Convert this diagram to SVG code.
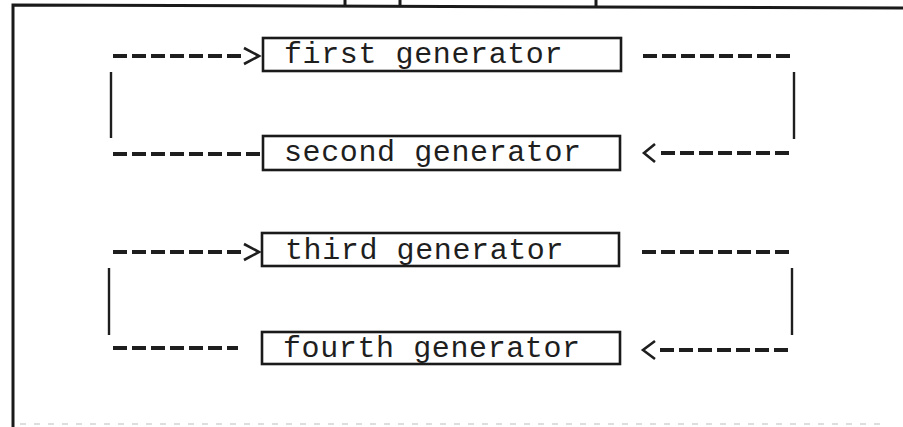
<svg xmlns="http://www.w3.org/2000/svg" width="903" height="427" viewBox="0 0 903 427">
  <style>
    .frame { fill: none; stroke: #1a1a1a; stroke-width: 3; }
    .box { fill: #ffffff; stroke: #1a1a1a; stroke-width: 2.6; }
    .label { font-family: "Liberation Mono", "DejaVu Sans Mono", monospace; font-size: 30px; letter-spacing: 0.6px; fill: #1e1e1e; }
    .dash { fill: none; stroke: #1e1e1e; stroke-width: 4; stroke-dasharray: 14 5; }
    .rail { fill: none; stroke: #1e1e1e; stroke-width: 2.4; }
    .head { fill: none; stroke: #1e1e1e; stroke-width: 2.6; stroke-linejoin: miter; }
  </style>

  <rect width="903" height="427" fill="#ffffff"/>

  <!-- page frame -->
  <g id="frame">
    <path class="frame" d="M13,427 L13,5 L903,8"/>
    <path class="frame" d="M345,0 L345,5 M400,0 L400,6 M596,0 L596,7" stroke-width="2"/>
    <path d="M20,424 L880,424" fill="none" stroke="#d4d4d4" stroke-width="1.5" stroke-dasharray="6 8"/>
  </g>

  <!-- generators -->
  <g id="first-generator">
    <rect class="box" x="263" y="38" width="358" height="33"/>
    <text class="label" x="284" y="63">first generator</text>
  </g>
  <g id="second-generator">
    <rect class="box" x="263" y="136" width="357" height="34"/>
    <text class="label" x="284" y="161">second generator</text>
  </g>
  <g id="third-generator">
    <rect class="box" x="262" y="233" width="357" height="33"/>
    <text class="label" x="285" y="259">third generator</text>
  </g>
  <g id="fourth-generator">
    <rect class="box" x="262" y="332" width="358" height="32"/>
    <text class="label" x="283" y="357">fourth generator</text>
  </g>

  <!-- feedback loops between generator pairs -->
  <g id="connectors">
    <!-- loop 1: first -> right -> second -> left -> first -->
    <path class="dash" d="M643,56 L792,56"/>
    <path class="rail" d="M794,72 L794,139"/>
    <path class="dash" d="M661,153 L792,153"/>
    <path class="head" d="M655,144 L644,153 L655,162"/>
    <path class="dash" d="M113,154 L262,154"/>
    <path class="rail" d="M111,72 L111,138"/>
    <path class="dash" d="M113,56 L242,56"/>
    <path class="head" d="M244,48 L259,56 L244,64"/>

    <!-- loop 2: third -> right -> fourth -> left -> third -->
    <path class="dash" d="M642,252 L791,252"/>
    <path class="rail" d="M792,268 L792,335"/>
    <path class="dash" d="M660,350 L791,350"/>
    <path class="head" d="M655,341 L643,350 L655,359"/>
    <path class="dash" d="M113,348 L238,348" stroke-dasharray="13.5 4.5"/>
    <path class="rail" d="M109,268 L109,335"/>
    <path class="dash" d="M113,252 L242,252"/>
    <path class="head" d="M244,244 L259,252 L244,260"/>
  </g>
</svg>
